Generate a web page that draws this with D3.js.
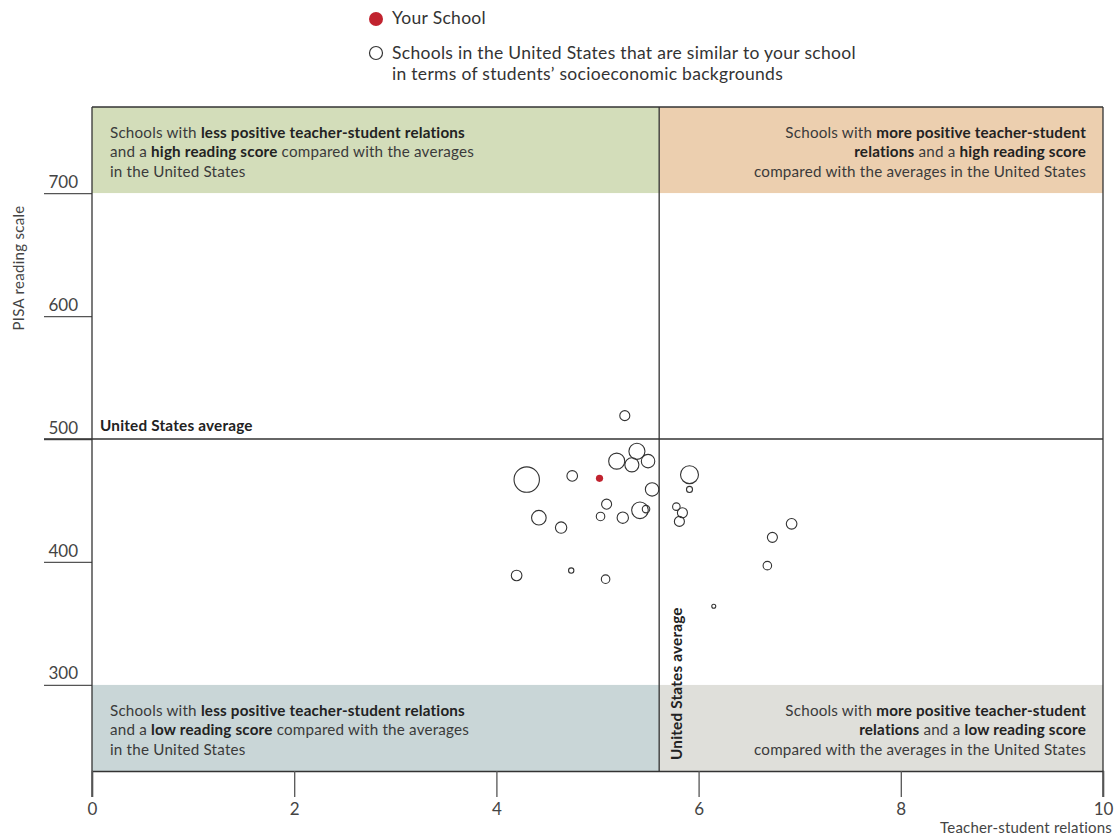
<!DOCTYPE html>
<html>
<head>
<meta charset="utf-8">
<script src="https://cdn.jsdelivr.net/npm/d3@7"></script>
<style>
  body { margin: 0; background: #fff; }
  svg { font-family: Lato, "Open Sans", sans-serif; }
</style>
</head>
<body>
<div id="chart"></div>
<script>
// teacher-student relations index, reading score, school size
var schoolX = [5.27, 5.39, 5.19, 5.34, 5.50, 4.30, 4.75, 5.54, 5.91, 5.91, 5.09, 5.42, 5.48, 5.78,
               5.84, 5.81, 4.42, 5.03, 5.25, 4.64, 4.20, 4.74, 5.08, 6.92, 6.73, 6.68, 6.15]
var schoolY = [519, 490, 482, 479, 482, 467, 470, 459, 471, 459, 447, 442, 443, 445,
               440, 433, 436, 437, 436, 428, 389, 393, 386, 431, 420, 397, 364]
var schoolSize = [25, 64, 64, 49, 45, 160, 28, 45, 80, 9, 25, 68, 14, 14,
                  25, 25, 53, 18, 32, 32, 28, 7, 18, 28, 25, 18, 4]

var yourSchoolX = [5.02]
var yourSchoolY = [468]

var usAvgX = 5.61
var usAvgY = 500

var xTicks = [0, 2, 4, 6, 8, 10]
var yTicks = [300, 400, 500, 600, 700]

var legendLabels = ["Your School",
    "Schools in the United States that are similar to your school",
    "in terms of students\u2019 socioeconomic backgrounds"]

// quadrant captions: [text, bold?] segments per line
var quadTopLeft = [
    [["Schools with ", 0], ["less positive teacher-student relations", 1]],
    [["and a ", 0], ["high reading score", 1], [" compared with the averages", 0]],
    [["in the United States", 0]]]
var quadTopRight = [
    [["Schools with ", 0], ["more positive teacher-student", 1]],
    [["relations", 1], [" and a ", 0], ["high reading score", 1]],
    [["compared with the averages in the United States", 0]]]
var quadBottomLeft = [
    [["Schools with ", 0], ["less positive teacher-student relations", 1]],
    [["and a ", 0], ["low reading score", 1], [" compared with the averages", 0]],
    [["in the United States", 0]]]
var quadBottomRight = [
    [["Schools with ", 0], ["more positive teacher-student", 1]],
    [["relations", 1], [" and a ", 0], ["low reading score", 1]],
    [["compared with the averages in the United States", 0]]]

var W = 1118, H = 838
var margin = {top: 107, right: 15, bottom: 67, left: 92},
    width = W - margin.left - margin.right,
    height = H - margin.top - margin.bottom

var ink = "#333"

var x = d3.scaleLinear().domain([0, 10]).range([0, width])
var y = d3.scaleLinear().domain([230, 770]).range([height, 0])
var r = d3.scaleSqrt().domain([0, 160]).range([0, 12.7])

var svg = d3.select("#chart").append("svg")
    .attr("width", W)
    .attr("height", H)

// legend
var legend = svg.append("g").attr("transform", "translate(376,0)")
legend.append("circle").attr("cx", 0).attr("cy", 19).attr("r", 7).attr("fill", "#c1232f")
legend.append("circle").attr("cx", 0).attr("cy", 53).attr("r", 6.5)
    .attr("fill", "none").attr("stroke", ink).attr("stroke-width", 1.2)
legend.selectAll("text.leg")
    .data(legendLabels)
    .enter().append("text")
        .attr("class", "leg")
        .attr("x", 16)
        .attr("y", (d, i) => [24, 59, 80][i])
        .attr("font-size", 17.5)
        .attr("letter-spacing", 0.3)
        .attr("fill", ink)
        .text(d => d)

var g = svg.append("g")
    .attr("transform", "translate(" + margin.left + "," + margin.top + ")")

// quadrant bands
var bands = [
    {x0: 0, x1: usAvgX, y0: 700, y1: 770, fill: "#d3ddba", lines: quadTopLeft, align: "start"},
    {x0: usAvgX, x1: 10, y0: 700, y1: 770, fill: "#eccfaf", lines: quadTopRight, align: "end"},
    {x0: 0, x1: usAvgX, y0: 230, y1: 300, fill: "#c9d6d7", lines: quadBottomLeft, align: "start"},
    {x0: usAvgX, x1: 10, y0: 230, y1: 300, fill: "#dfdfda", lines: quadBottomRight, align: "end"}
]

g.selectAll("rect.band")
    .data(bands)
    .enter().append("rect")
        .attr("class", "band")
        .attr("x", d => x(d.x0))
        .attr("y", d => y(d.y1))
        .attr("width", d => x(d.x1) - x(d.x0))
        .attr("height", d => y(d.y0) - y(d.y1))
        .attr("fill", d => d.fill)

bands.forEach(b => {
    var tx = b.align == "start" ? x(b.x0) + 18 : x(b.x1) - 17
    var ty = y(b.y1) + 31
    b.lines.forEach((line, i) => {
        var t = g.append("text")
            .attr("x", tx)
            .attr("y", ty + i * 19.3)
            .attr("text-anchor", b.align)
            .attr("font-size", 15.2)
            .attr("letter-spacing", 0.2)
            .attr("fill", "#3a3a3a")
        line.forEach(seg => {
            t.append("tspan")
                .attr("font-weight", seg[1] ? "bold" : "normal")
                .attr("fill", seg[1] ? "#222" : "#3a3a3a")
                .text(seg[0])
        })
    })
})

// frame
g.append("line").attr("x1", 0).attr("x2", width).attr("y1", 0).attr("y2", 0)
    .attr("stroke", ink).attr("stroke-width", 1.3)
g.append("line").attr("x1", width).attr("x2", width).attr("y1", 0).attr("y2", height + 26)
    .attr("stroke", ink).attr("stroke-width", 1.3)

// y axis: ticks drawn leftwards, labels sitting above them
var yAxis = g.append("g")
    .call(d3.axisLeft(y).tickValues(yTicks).tickSize(48).tickPadding(0))
yAxis.select(".domain").remove()
yAxis.selectAll(".tick line").attr("stroke", "#555").attr("stroke-width", 1.3)
yAxis.selectAll(".tick text")
    .attr("x", -14)
    .attr("dy", "-0.35em")
    .attr("font-size", 17)
    .attr("font-family", "Lato, sans-serif")
    .attr("fill", "#444")
g.append("line").attr("x1", 0).attr("x2", 0).attr("y1", 0).attr("y2", height + 26)
    .attr("stroke", ink).attr("stroke-width", 1.3)

// x axis
var xAxis = g.append("g")
    .attr("transform", "translate(0," + height + ")")
    .call(d3.axisBottom(x).tickValues(xTicks).tickSize(26).tickPadding(6))
xAxis.select(".domain").attr("stroke", ink).attr("stroke-width", 1.3)
xAxis.selectAll(".tick line").attr("stroke", "#555").attr("stroke-width", 1.3)
xAxis.selectAll(".tick text")
    .attr("font-size", 17)
    .attr("font-family", "Lato, sans-serif")
    .attr("fill", "#444")

// axis titles
svg.append("text")
    .attr("x", 1112).attr("y", 833)
    .attr("text-anchor", "end")
    .attr("font-size", 15)
    .attr("letter-spacing", 0.2)
    .attr("fill", "#444")
    .text("Teacher-student relations")
svg.append("text")
    .attr("transform", "translate(24,268) rotate(-90)")
    .attr("text-anchor", "middle")
    .attr("font-size", 15)
    .attr("letter-spacing", 0.3)
    .attr("fill", "#444")
    .text("PISA reading scale")

// average lines
g.append("line")
    .attr("x1", -48).attr("x2", width)
    .attr("y1", y(usAvgY)).attr("y2", y(usAvgY))
    .attr("stroke", ink).attr("stroke-width", 1.3)
g.append("line")
    .attr("x1", x(usAvgX)).attr("x2", x(usAvgX))
    .attr("y1", 0).attr("y2", height)
    .attr("stroke", ink).attr("stroke-width", 1.3)
g.append("text")
    .attr("x", 8).attr("y", y(usAvgY) - 8)
    .attr("font-size", 15.3).attr("letter-spacing", 0.2)
    .attr("font-weight", "bold").attr("fill", "#222")
    .text("United States average")
g.append("text")
    .attr("transform", "translate(" + (x(usAvgX) + 23) + "," + (height - 11) + ") rotate(-90)")
    .attr("font-size", 15.3).attr("letter-spacing", 0.2)
    .attr("font-weight", "bold").attr("fill", "#222")
    .text("United States average")

// schools
var schools = schoolX.map((v, i) => ({x: v, y: schoolY[i], n: schoolSize[i]}))
g.selectAll("circle.school")
    .data(schools)
    .enter().append("circle")
        .attr("class", "school")
        .attr("cx", d => x(d.x))
        .attr("cy", d => y(d.y))
        .attr("r", d => r(d.n))
        .attr("fill", "none")
        .attr("stroke", ink)
        .attr("stroke-width", 1.1)

g.selectAll("circle.you")
    .data(yourSchoolX.map((v, i) => ({x: v, y: yourSchoolY[i]})))
    .enter().append("circle")
        .attr("class", "you")
        .attr("cx", d => x(d.x))
        .attr("cy", d => y(d.y))
        .attr("r", 3.6)
        .attr("fill", "#c1232f")
</script>
</body>
</html>
